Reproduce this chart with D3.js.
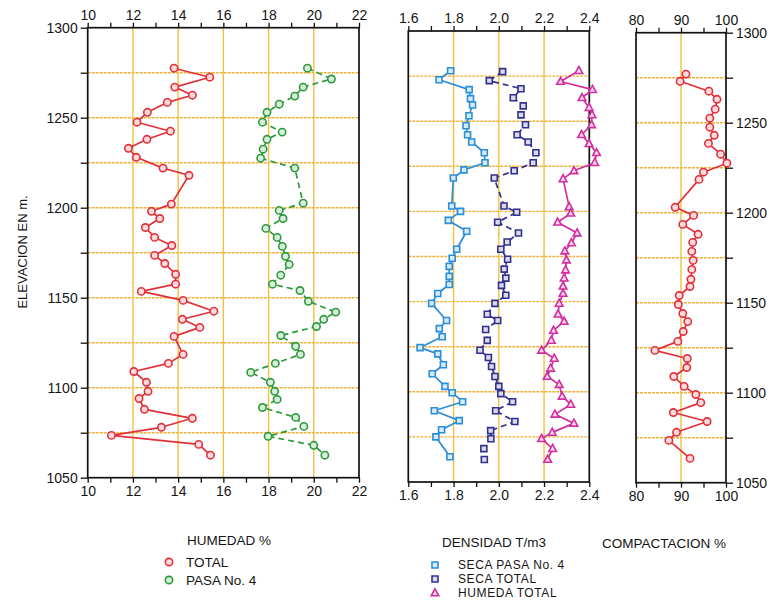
<!DOCTYPE html>
<html><head><meta charset="utf-8">
<script src="https://cdn.jsdelivr.net/npm/d3@7"></script>
<style>
body{margin:0;background:#fff}
svg text{font-family:"Liberation Sans",Arial,sans-serif;fill:#151515}
</style></head><body>
<svg id="chart" width="780" height="604"></svg>
<script>
// ---- Humedad % (left panel) ----
const humTotalElev = [1277.5,1272.5,1267,1262.5,1258.5,1253,1247.5,1242.5,1238,1233,1228,1222,1218,1202,1198,1194,1189,1183.5,1179,1173.5,1169,1163,1157.5,1153.5,1148.5,1142.5,1138,1133.5,1128.5,1118.5,1113.5,1109,1103,1098,1094,1088,1083,1078,1073.5,1068.5,1062.5];
const humTotal = [13.82,15.4,13.85,14.63,13.52,12.64,12.18,13.66,12.62,11.8,12.15,13.33,14.48,13.7,12.82,13.19,12.55,12.96,13.72,12.96,13.41,13.89,13.89,12.37,14.22,15.58,14.19,14.96,13.82,14.22,13.57,12.04,12.6,12.67,12.27,12.51,14.63,13.26,11.05,14.91,15.43];
const humPasaElev = [1277.5,1271.5,1267,1262,1257.5,1253,1247.5,1242,1238,1232.5,1227.5,1222,1202.5,1198.5,1194,1188.5,1183.5,1178.5,1173,1168.5,1162.5,1157.5,1154,1148,1142,1138,1134,1129,1123,1118.5,1113.5,1108.5,1103,1098,1093.5,1089,1083.5,1078.5,1073,1068,1062.5];
const humPasa = [19.72,20.78,19.53,19.16,18.47,17.93,17.73,18.6,17.93,17.76,17.65,19.16,19.53,18.47,18.64,17.88,18.38,18.61,18.75,18.91,18.54,18.17,19.39,19.76,20.97,20.44,20.12,18.54,19.2,19.41,18.3,17.21,18.08,18.27,18.38,17.73,19.2,19.56,17.98,20.0,20.49];

// ---- Densidad T/m3 (middle panel) ----
const denSecaPasaElev = [1278,1273,1267.5,1262.5,1259,1253,1247.5,1242.5,1238.5,1232.5,1227,1223,1218.5,1203,1200,1195,1189,1179,1174,1169.5,1164,1159.5,1154.5,1149,1139.5,1135,1130.5,1124.5,1121,1115,1110,1103,1099.5,1094.5,1089.5,1084,1079,1075,1064];
const denSecaPasa = [1.787,1.736,1.869,1.875,1.884,1.868,1.855,1.862,1.880,1.936,1.939,1.846,1.799,1.792,1.831,1.777,1.858,1.814,1.794,1.781,1.781,1.781,1.730,1.703,1.769,1.737,1.750,1.652,1.730,1.755,1.706,1.762,1.794,1.840,1.715,1.825,1.747,1.722,1.784];
const denSecaTotalElev = [1277.5,1272.5,1268,1263,1258.5,1253.5,1248,1242.5,1238.5,1232.5,1227,1222.5,1218.5,1203,1199.5,1194,1188,1183,1179,1173.5,1168,1163,1159,1153.5,1149,1143,1139.5,1134.5,1128.5,1123,1119,1114,1108.5,1103,1099,1094.5,1089.5,1083.5,1078.5,1074,1068.5,1062.5];
const denSecaTotal = [2.017,1.958,2.098,2.064,2.108,2.098,2.118,2.081,2.130,2.164,2.152,2.068,1.980,2.023,2.079,1.995,2.087,2.037,2.009,2.039,2.024,2.031,2.012,2.031,1.983,1.949,1.995,1.942,1.949,1.917,1.954,1.968,1.983,2.000,2.009,2.061,1.986,2.071,1.964,1.965,1.934,1.936];
const denHumedaElev = [1278,1272,1267.5,1263,1257.5,1253.5,1248,1242.5,1237.5,1232.5,1227,1222.5,1218,1202.5,1199,1194,1188,1182.5,1178,1173,1167.5,1163,1158.5,1154.5,1149,1143,1139,1134,1128.5,1123,1118.5,1113,1108.5,1104,1097.5,1093,1087.5,1082.5,1077.5,1074,1068.5,1062.5];
const denHumeda = [2.354,2.273,2.414,2.368,2.399,2.412,2.410,2.366,2.399,2.432,2.424,2.332,2.284,2.311,2.318,2.260,2.346,2.321,2.292,2.299,2.295,2.289,2.284,2.284,2.267,2.262,2.289,2.242,2.232,2.189,2.245,2.229,2.214,2.267,2.280,2.318,2.248,2.332,2.236,2.189,2.238,2.216];

// ---- Compactacion % (right panel) ----
const compElev = [1277,1273,1267.5,1263,1257.5,1252.5,1247.5,1243,1238.5,1232.5,1227.5,1222.5,1218.5,1203,1198.5,1193.5,1188,1183.5,1178.5,1173.5,1168.5,1163,1159,1154,1149,1144,1139.5,1134,1128.5,1123.5,1119,1114,1109,1103.5,1099,1094.5,1089,1084,1078,1073.5,1063.5];
const comp = [91.1,89.8,96.2,98.0,97.6,96.4,96.4,97.4,96.1,98.8,100.2,95.0,94.0,88.7,92.8,90.4,93.8,92.6,92.4,92.7,92.4,92.2,92.0,89.6,89.4,90.4,91.5,90.5,89.3,84.2,91.4,91.3,88.4,90.7,93.3,94.4,88.3,95.8,89.0,87.3,92.0];

// ---- Axis ticks ----
const elevTicks = [1300,1275,1250,1225,1200,1175,1150,1125,1100,1075,1050];
const elevLabels = [1300,1250,1200,1150,1100,1050];
const humTicks = [10,12,14,16,18,20,22];
const humMinor = [11,13,15,17,19,21];
const denTicks = [1.6,1.8,2.0,2.2,2.4];
const denMinor = [1.7,1.9,2.1,2.3];
const compTicks = [80,90,100];
const compMinor = [85,95];

const C = {
  red: "#e2303a", green: "#2c9a3a", lblue: "#2a8fd8",
  dblue: "#30308f", magenta: "#d22e9e", grid: "#eeb13a", axis: "#111"
};

const svg = d3.select("#chart");

function makePanel(opt) {
  const x = d3.scaleLinear().domain(opt.xDomain).range(opt.xRange);
  const y = d3.scaleLinear().domain([1300, 1050]).range(opt.yRange);
  const g = svg.append("g");
  const [x0, x1] = opt.xRange, [y0, y1] = opt.yRange;

  // grid
  g.append("g").selectAll("line").data(elevTicks.filter(d => d > 1050 && d < 1300))
    .join("line").attr("x1", x0).attr("x2", x1).attr("y1", d => y(d)).attr("y2", d => y(d))
    .attr("stroke", C.grid).attr("stroke-width", 1.4).attr("stroke-dasharray", "3,1");
  g.append("g").selectAll("line").data(opt.major.slice(1, -1))
    .join("line").attr("x1", d => x(d)).attr("x2", d => x(d)).attr("y1", y0).attr("y2", y1)
    .attr("stroke", "#f2c040").attr("stroke-width", 1.4);

  // top / bottom axes
  const fmt = opt.fmt;
  const addX = (axisFn, ty) => {
    const a = g.append("g").attr("transform", `translate(0,${ty})`)
      .call(axisFn(x).tickValues(opt.major).tickSize(5).tickSizeOuter(0).tickFormat(fmt));
    a.select(".domain").remove();
    a.selectAll("line").attr("stroke", C.axis).attr("stroke-width", 1.3);
    a.selectAll("text").attr("font-size", 14).attr("font-family", "Liberation Sans, Arial, sans-serif").attr("fill", "#151515");
    const m = g.append("g").attr("transform", `translate(0,${ty})`)
      .call(axisFn(x).tickValues(opt.minor).tickSize(5).tickSizeOuter(0).tickFormat(""));
    m.select(".domain").remove();
    m.selectAll("line").attr("stroke", C.axis).attr("stroke-width", 1.3);
  };
  addX(d3.axisTop, y0);
  addX(d3.axisBottom, y1);

  // frame
  g.append("rect").attr("x", x0).attr("y", y0).attr("width", x1 - x0).attr("height", y1 - y0)
    .attr("fill", "none").attr("stroke", C.axis).attr("stroke-width", 1.7);

  return { x, y, g };
}

function addElevAxis(p, side, xPos) {
  const fn = side === "left" ? d3.axisLeft : d3.axisRight;
  const a = p.g.append("g").attr("transform", `translate(${xPos},0)`)
    .call(fn(p.y).tickValues(elevTicks).tickSize(7).tickSizeOuter(0)
      .tickFormat(d => elevLabels.includes(d) ? d : ""));
  a.select(".domain").remove();
  a.selectAll("line").attr("stroke", C.axis).attr("stroke-width", 1.3);
  a.selectAll("text").attr("font-size", 14).attr("font-family", "Liberation Sans, Arial, sans-serif").attr("fill", "#151515");
}

function series(p, elev, vals, color, shape, dashed, lineCount) {
  const pts = vals.map((v, i) => [p.x(v), p.y(elev[i])]);
  const n = lineCount == null ? pts.length : lineCount;
  p.g.append("path").attr("d", d3.line()(pts.slice(0, n)))
    .attr("fill", "none").attr("stroke", color).attr("stroke-width", 1.7)
    .attr("stroke-dasharray", dashed ? "6,4" : null).attr("stroke-linejoin", "round");
  drawMarkers(p.g, pts, color, shape);
}

function drawMarkers(g, pts, color, shape) {
  const sel = g.append("g").selectAll("path").data(pts).join("path")
    .attr("transform", d => `translate(${d[0]},${d[1]})`)
    .attr("fill", d3.interpolateRgb("#ffffff", color)(0.18))
    .attr("stroke", color).attr("stroke-width", 1.6);
  if (shape === "circle") sel.attr("d", d3.symbol(d3.symbolCircle, 42)());
  else if (shape === "square") sel.attr("d", "M-3,-3H3V3H-3Z");
  else sel.attr("d", "M0,-4.2L3.8,2.8H-3.8Z");
}

// Panels
const pHum = makePanel({ xDomain: [10, 22], xRange: [87.7, 359], yRange: [27.7, 477.7],
  major: humTicks, minor: humMinor, fmt: d3.format("d") });
const pDen = makePanel({ xDomain: [1.6, 2.4], xRange: [408.3, 589.3], yRange: [31, 482],
  major: denTicks, minor: denMinor, fmt: d3.format(".1f") });
const pComp = makePanel({ xDomain: [80, 100], xRange: [636, 726], yRange: [32.7, 482.7],
  major: compTicks, minor: compMinor, fmt: d3.format("d") });

addElevAxis(pHum, "left", 87.7);
addElevAxis(pComp, "right", 726);

series(pHum, humTotalElev, humTotal, C.red, "circle", false);
series(pHum, humPasaElev, humPasa, C.green, "circle", true);
series(pDen, denSecaPasaElev, denSecaPasa, C.lblue, "square", false);
series(pDen, denSecaTotalElev, denSecaTotal, C.dblue, "square", true, denSecaTotal.length - 2);
series(pDen, denHumedaElev, denHumeda, C.magenta, "triangle", false);
series(pComp, compElev, comp, C.red, "circle", false);

// Elevation title
svg.append("text").attr("transform", "translate(27,252) rotate(-90)")
  .attr("text-anchor", "middle").attr("font-size", 13).text("ELEVACION EN m.");

// Legends
const lg = svg.append("g").attr("font-size", 13.5);
lg.append("text").attr("x", 187).attr("y", 545).text("HUMEDAD %");
lg.append("text").attr("x", 186).attr("y", 567).text("TOTAL");
lg.append("text").attr("x", 186).attr("y", 585).text("PASA No. 4");
drawMarkers(lg, [[169, 562]], C.red, "circle");
drawMarkers(lg, [[169, 580]], C.green, "circle");

lg.append("text").attr("x", 442).attr("y", 547).text("DENSIDAD T/m3");
const dl = lg.append("g").attr("font-size", 12).attr("letter-spacing", 0.6);
dl.append("text").attr("x", 458).attr("y", 569).text("SECA PASA No. 4");
dl.append("text").attr("x", 458).attr("y", 583).text("SECA TOTAL");
dl.append("text").attr("x", 458).attr("y", 597).text("HUMEDA TOTAL");
drawMarkers(lg, [[435, 565]], C.lblue, "square");
drawMarkers(lg, [[435, 579]], C.dblue, "square");
drawMarkers(lg, [[435, 593]], C.magenta, "triangle");

lg.append("text").attr("x", 602).attr("y", 548).text("COMPACTACION %");
</script>
</body></html>
